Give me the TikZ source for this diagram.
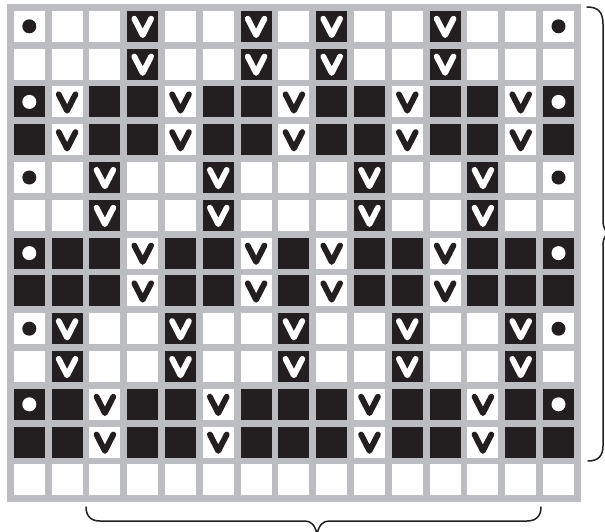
\documentclass[tikz,border=0pt]{standalone}
\definecolor{ink}{HTML}{231F20}
\definecolor{gridgray}{HTML}{BBBDC0}
\tikzset{
  cellbox/.style={rectangle, minimum size=31pt, inner sep=0pt, outer sep=0pt, draw=none},
  vmark/.style={line width=5.8pt, line cap=round, line join=round},
  bracepath/.style={draw=ink, line width=1.5pt, line cap=round},
}
\begin{document}
\begin{tikzpicture}[x=1pt,y=-1pt]
\useasboundingbox (0,0) rectangle (605,531);
\fill[gridgray] (7,4) rectangle (580.8,502.2);
% codes: 0 white, 1 black, 2 white + black V, 3 black + white V, 4 white + black dot, 5 black + white dot
\foreach \row [count=\j from 0] in {
  {4,0,0,3,0,0,3,0,3,0,0,3,0,0,4},
  {0,0,0,3,0,0,3,0,3,0,0,3,0,0,0},
  {5,2,1,1,2,1,1,2,1,1,2,1,1,2,5},
  {1,2,1,1,2,1,1,2,1,1,2,1,1,2,1},
  {4,0,3,0,0,3,0,0,0,3,0,0,3,0,4},
  {0,0,3,0,0,3,0,0,0,3,0,0,3,0,0},
  {5,1,1,2,1,1,2,1,2,1,1,2,1,1,5},
  {1,1,1,2,1,1,2,1,2,1,1,2,1,1,1},
  {4,3,0,0,3,0,0,3,0,0,3,0,0,3,4},
  {0,3,0,0,3,0,0,3,0,0,3,0,0,3,0},
  {5,1,2,1,1,2,1,1,1,2,1,1,2,1,5},
  {1,1,2,1,1,2,1,1,1,2,1,1,2,1,1},
  {0,0,0,0,0,0,0,0,0,0,0,0,0,0,0}} {
  \foreach \c [count=\i from 0] in \row {
    \pgfmathsetmacro\cx{13.8+\i*37.8+15.5}
    \pgfmathsetmacro\cy{10.8+\j*37.8+15.5}
    \ifodd\c \def\fg{white}\def\bgc{ink}\else \def\fg{ink}\def\bgc{white}\fi
    \node[cellbox, fill=\bgc] (c-\j-\i) at (\cx,\cy) {};
    \ifnum\c>1
      \ifnum\c<4
        \draw[vmark, draw=\fg] (\cx-8.4,\cy-7.6) -- (\cx,\cy+8.8) -- (\cx+8.4,\cy-7.6);
      \else
        \fill[\fg] (c-\j-\i.center) circle[radius=7];
      \fi
    \fi
  }
}
% right brace
\draw[bracepath] (587,7) .. controls (598,7) and (603,12) .. (603,24) -- (603,220)
  .. controls (603,229) and (606,233) .. (612,233)
  .. controls (606,233) and (603,237) .. (603,246) -- (603,446)
  .. controls (603,456) and (598,461) .. (588,461);
% bottom brace
\draw[bracepath] (86,507) .. controls (86,516) and (91,521) .. (100,521) -- (305,521)
  .. controls (311,521) and (315,525) .. (317,534)
  .. controls (319,525) and (323,521) .. (329,521) -- (527,521)
  .. controls (536,521) and (541,516) .. (541,507);
\end{tikzpicture}
\end{document}
